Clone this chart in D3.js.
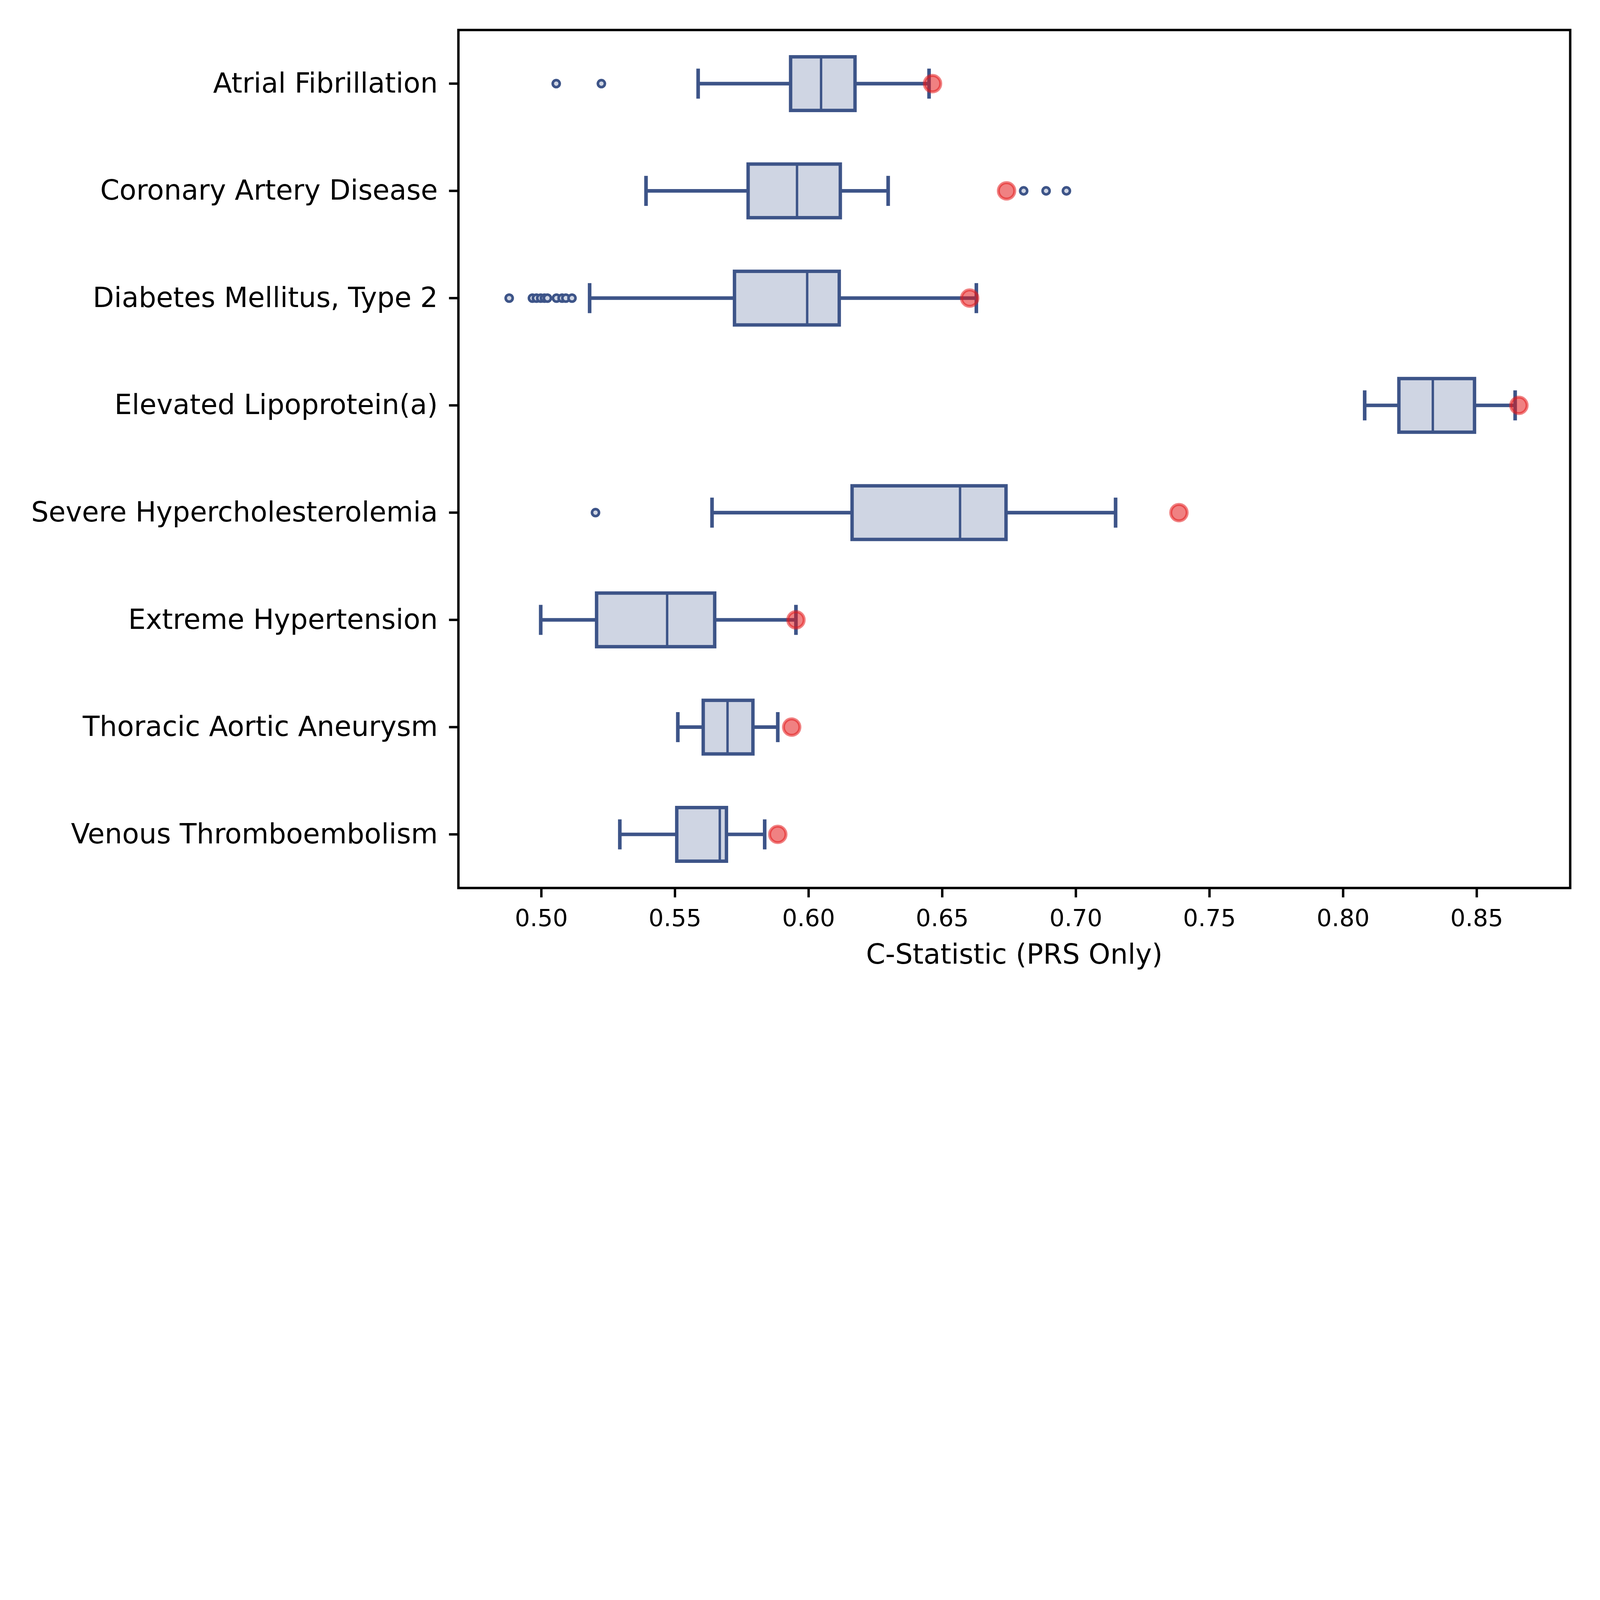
<!DOCTYPE html>
<html>
<head>
<meta charset="utf-8">
<script src="https://cdn.jsdelivr.net/npm/d3@7"></script>
<style>
  html, body { margin: 0; padding: 0; background: #fff; overflow: hidden; }
  svg { display: block; width: 100vw; height: 100vh; }
</style>
</head>
<body>
<div class="chart"></div>
<script>
// box stats, one entry per category (top to bottom)
const categories = [
  'Atrial Fibrillation',
  'Coronary Artery Disease',
  'Diabetes Mellitus, Type 2',
  'Elevated Lipoprotein(a)',
  'Severe Hypercholesterolemia',
  'Extreme Hypertension',
  'Thoracic Aortic Aneurysm',
  'Venous Thromboembolism'
]
const whiskerLow  = [0.5587, 0.5392, 0.5181, 0.8081, 0.5639, 0.4998, 0.5511, 0.5294]
const q1          = [0.5933, 0.5774, 0.5723, 0.8209, 0.6163, 0.5207, 0.5606, 0.5507]
const median      = [0.6047, 0.5957, 0.5995, 0.8336, 0.6567, 0.5471, 0.5697, 0.5668]
const q3          = [0.6174, 0.6119, 0.6115, 0.8492, 0.6739, 0.5649, 0.5792, 0.5693]
const whiskerHigh = [0.6451, 0.6298, 0.6628, 0.8644, 0.7149, 0.5953, 0.5885, 0.5836]
const outliers = [
  [0.5056, 0.5225],
  [0.6805, 0.6889, 0.6965],
  [0.4880, 0.4967, 0.4982, 0.4998, 0.5012, 0.5023, 0.5057, 0.5078, 0.5092, 0.5115],
  [],
  [0.5203],
  [],
  [],
  []
]
// red markers
const observed = [0.6464, 0.6741, 0.6603, 0.8658, 0.7386, 0.5953, 0.5937, 0.5885]
const xTicks = [0.50, 0.55, 0.60, 0.65, 0.70, 0.75, 0.80, 0.85]
const xLabel = 'C-Statistic (PRS Only)'

const blue = '#3d5488'
const boxFill = '#cfd5e3'
const red = '#e41a1c'

function drawBoxes (container) {
  const fullWidth = 8000
  const fullHeight = 5000
  const plot = { left: 2292, right: 7851, top: 150, bottom: 4440 }

  const xScale = d3.scaleLinear()
    .domain([0.469, 0.885])
    .range([plot.left, plot.right])

  const yScale = d3.scaleBand()
    .domain(categories)
    .range([plot.top, plot.bottom])
    .padding(0)

  const band = yScale.bandwidth()
  const boxH = band * 0.5
  const capH = band * 0.28
  const cy = i => yScale(categories[i]) + band / 2

  // drawn in an 8000x5000 frame, scaled to fit the window, pinned top-left
  const svg = d3.select(container)
    .append('svg')
      .attr('viewBox', `0 0 ${fullWidth} ${fullHeight}`)
      .attr('preserveAspectRatio', 'xMinYMin meet')
      .style('font-family', '"DejaVu Sans", sans-serif')

  const rows = categories.map((c, i) => i)

  // boxes
  svg.append('g').selectAll('rect')
    .data(rows)
    .enter()
      .append('rect')
      .attr('x', i => xScale(q1[i]))
      .attr('y', i => cy(i) - boxH / 2)
      .attr('width', i => xScale(q3[i]) - xScale(q1[i]))
      .attr('height', boxH)
      .attr('fill', boxFill)
      .attr('stroke', blue)
      .attr('stroke-width', 17)

  // whiskers
  const wh = svg.append('g')
    .attr('stroke', blue)
    .attr('stroke-width', 18)
  wh.selectAll('.wl')
    .data(rows)
    .enter()
      .append('line')
      .attr('x1', i => xScale(whiskerLow[i]))
      .attr('x2', i => xScale(q1[i]))
      .attr('y1', cy)
      .attr('y2', cy)
  wh.selectAll('.wr')
    .data(rows)
    .enter()
      .append('line')
      .attr('x1', i => xScale(q3[i]))
      .attr('x2', i => xScale(whiskerHigh[i]))
      .attr('y1', cy)
      .attr('y2', cy)

  // caps
  const caps = rows.flatMap(i => [[i, whiskerLow[i]], [i, whiskerHigh[i]]])
  wh.selectAll('.cap')
    .data(caps)
    .enter()
      .append('line')
      .attr('x1', d => xScale(d[1]))
      .attr('x2', d => xScale(d[1]))
      .attr('y1', d => cy(d[0]) - capH / 2)
      .attr('y2', d => cy(d[0]) + capH / 2)

  // medians
  svg.append('g').selectAll('line')
    .data(rows)
    .enter()
      .append('line')
      .attr('x1', i => xScale(median[i]))
      .attr('x2', i => xScale(median[i]))
      .attr('y1', i => cy(i) - boxH / 2)
      .attr('y2', i => cy(i) + boxH / 2)
      .attr('stroke', blue)
      .attr('stroke-width', 12)

  // fliers
  const fliers = rows.flatMap(i => outliers[i].map(v => [i, v]))
  svg.append('g').selectAll('circle')
    .data(fliers)
    .enter()
      .append('circle')
      .attr('cx', d => xScale(d[1]))
      .attr('cy', d => cy(d[0]))
      .attr('r', 17.5)
      .attr('fill', boxFill)
      .attr('stroke', blue)
      .attr('stroke-width', 13)

  // observed points
  svg.append('g').selectAll('circle')
    .data(rows)
    .enter()
      .append('circle')
      .attr('cx', i => xScale(observed[i]))
      .attr('cy', cy)
      .attr('r', 41)
      .attr('fill', red)
      .attr('fill-opacity', 0.55)
      .attr('stroke', red)
      .attr('stroke-opacity', 0.55)
      .attr('stroke-width', 15)

  // axes
  const xAxis = d3.axisBottom(xScale)
    .tickValues(xTicks)
    .tickFormat(d3.format('.2f'))
    .tickSize(47)
    .tickPadding(60)
  const gx = svg.append('g')
    .attr('transform', `translate(0, ${plot.bottom})`)
    .call(xAxis)
  gx.select('.domain').remove()
  gx.selectAll('line').attr('stroke', '#000').attr('stroke-width', 12)
  gx.selectAll('text')
    .attr('fill', '#000')
    .style('font-size', '119px')
    .style('font-family', '"DejaVu Sans", sans-serif')

  const yAxis = d3.axisLeft(yScale)
    .tickSize(47)
    .tickPadding(56)
  const gy = svg.append('g')
    .attr('transform', `translate(${plot.left}, 0)`)
    .call(yAxis)
  gy.select('.domain').remove()
  gy.selectAll('line').attr('stroke', '#000').attr('stroke-width', 12)
  gy.selectAll('text')
    .attr('fill', '#000')
    .style('font-size', '138px')
    .style('font-family', '"DejaVu Sans", sans-serif')

  // frame
  svg.append('rect')
    .attr('x', plot.left)
    .attr('y', plot.top)
    .attr('width', plot.right - plot.left)
    .attr('height', plot.bottom - plot.top)
    .attr('fill', 'none')
    .attr('stroke', '#000')
    .attr('stroke-width', 12)

  svg.append('text')
    .attr('x', (plot.left + plot.right) / 2)
    .attr('y', 4819)
    .attr('text-anchor', 'middle')
    .style('font-size', '138px')
    .text(xLabel)

  return svg
}

drawBoxes('.chart')
</script>
</body>
</html>
